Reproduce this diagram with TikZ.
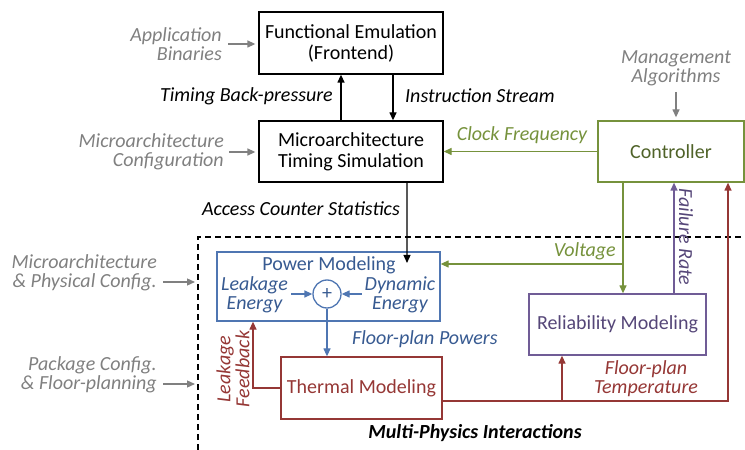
\documentclass[tikz,border=0pt]{standalone}
\usepackage{fontspec}
\setmainfont{Carlito}
\usetikzlibrary{arrows.meta,calc}
\definecolor{cgray}{RGB}{128,128,128}
\definecolor{cgreen}{RGB}{118,146,60}
\definecolor{cgreenD}{RGB}{79,98,40}
\definecolor{cblue}{RGB}{79,118,178}
\definecolor{cblueT}{RGB}{55,90,145}
\definecolor{cred}{RGB}{149,55,53}
\definecolor{cpurp}{RGB}{112,92,150}
\definecolor{cpurpT}{RGB}{85,70,120}
\tikzset{
  box/.style={draw, line width=1.3bp, inner sep=0pt, align=center, font=\fontsize{20bp}{21bp}\selectfont},
  lbl/.style={inner sep=0pt, font=\fontsize{20bp}{19bp}\selectfont\itshape},
  arr/.style={line width=1.3bp, -{Triangle[length=8bp,width=7bp]}},
  ln/.style={line width=1.3bp},
}
\begin{document}
\begin{tikzpicture}[x=1bp,y=-1bp]
\useasboundingbox (0,0) rectangle (745,450);

% main boxes
\node[box, minimum width=184bp, minimum height=62bp] (fe) at (351,43) {Functional Emulation\\(Frontend)};
\node[box, minimum width=184bp, minimum height=61bp] (ts) at (351,151.5) {Microarchitecture\\Timing Simulation};
\node[box, draw=cgreen, text=cgreenD, minimum width=146bp, minimum height=61bp] (ctrl) at (671,151.5) {Controller};
\node[box, draw=cblue, minimum width=223bp, minimum height=69bp] (pm) at (328.5,286.5) {};
\node[box, draw=cred, text=cred, minimum width=161bp, minimum height=62bp] (th) at (361.5,388) {Thermal Modeling};
\node[box, draw=cpurp, text=cpurpT, minimum width=177bp, minimum height=61bp] (rm) at (617.5,324.5) {Reliability Modeling};

% inside power box
\node[inner sep=0pt, text=cblueT, font=\fontsize{20bp}{21bp}\selectfont] (pmt) at (329,265) {Power Modeling};
\node[circle, draw=cblue, line width=1.3bp, minimum size=28bp, inner sep=0pt, text=cblueT, font=\fontsize{20bp}{20bp}\selectfont] (pl) at (327,294) {+};
\node[lbl, text=cblueT, align=center] (le) at (254.5,295) {Leakage\\Energy};
\node[lbl, text=cblueT, align=center] (de) at (400,295) {Dynamic\\Energy};
\draw[arr, cblue] (le.east |- pl.west) ++(3,0) -- (pl.west);
\draw[arr, cblue] (de.west |- pl.east) ++(-3,0) -- (pl.east);
\draw[arr, cblue] (pl.south) -- (pl.south |- th.north);
\node[lbl, text=cblueT, anchor=west] (fpp) at (352,339) {Floor-plan Powers};

% dashed region
\coordinate (dl) at (198,450);
\coordinate (dc) at (198,237);
\coordinate (dr) at (745,237);
\draw[line width=1.3bp, dash pattern=on 6bp off 4bp] (dl) -- (dc) -- (dr);
\node[inner sep=0pt, font=\fontsize{20bp}{21bp}\selectfont\bfseries\itshape] (mpi) at (475,433) {Multi-Physics Interactions};

% gray inputs
\node[lbl, text=cgray, align=right, anchor=east] (ab) at (222,44) {Application\\Binaries};
\coordinate (abs) at (228,44);
\draw[arr, cgray] (abs) -- ([xshift=-3bp]abs -| fe.west);
\node[lbl, text=cgray, align=right, anchor=east] (mc) at (224,152) {Microarchitecture\\Configuration};
\coordinate (mcs) at (229,152);
\draw[arr, cgray] (mcs) -- ([xshift=-3bp]mcs -| ts.west);
\node[lbl, text=cgray, align=right, anchor=east] (mp) at (157,273) {Microarchitecture\\\& Physical Config.};
\coordinate (mps) at (163,282);
\draw[arr, cgray] (mps) -- ([xshift=-3bp]mps -| dc);
\node[lbl, text=cgray, align=right, anchor=east] (pc) at (157,374.5) {Package Config.\\\& Floor-planning};
\coordinate (pcs) at (163,384);
\draw[arr, cgray] (pcs) -- ([xshift=-3bp]pcs -| dc);
\node[lbl, text=cgray, align=center] (ma) at (676,68) {Management\\Algorithms};
\draw[arr, cgray] ([yshift=-6bp]ma.south) -- ([yshift=3bp]ma.south |- ctrl.north);

% frontend <-> timing
\draw[arr] ([xshift=-10bp]ts.north) -- ([xshift=-10bp]fe.south);
\draw[arr] ([xshift=42bp]fe.south) -- ([xshift=42bp]ts.north);
\node[lbl, anchor=east] (tbp) at (333,96) {Timing Back-pressure};
\node[lbl, anchor=west] (ist) at (405,96) {Instruction Stream};

% access counters
\coordinate (acc) at (407,263);
\draw[arr] ([xshift=56bp]ts.south) -- (acc);
\node[lbl, anchor=east] (acs) at (400,209) {Access Counter Statistics};

% clock frequency
\draw[arr, cgreen] (ctrl.west |- ts.east) -- (ts.east);
\node[lbl, text=cgreen] (cf) at (522,135) {Clock Frequency};

% voltage
\coordinate (vj) at (623,264);
\draw[ln, cgreen] (vj |- ctrl.south) -- (vj);
\draw[arr, cgreen] (vj) -- (vj |- rm.north);
\draw[arr, cgreen] (vj) -- (vj -| pm.east);
\node[lbl, text=cgreen, anchor=east] (vt) at (616,251) {Voltage};

% failure rate
\coordinate (fr) at (674,240);
\draw[arr, cpurp] (fr |- rm.north) -- (fr |- ctrl.south);
\node[lbl, text=cpurpT, rotate=-90] (frt) at (686,237) {Failure Rate};

% temperature
\coordinate (tl) at (442,401);
\coordinate (rc) at (728,401);
\coordinate (tb) at (562,401);
\draw[arr, cred] (tl) -- (rc) -- (rc |- ctrl.south);
\draw[arr, cred] (tb) -- (tb |- rm.south);
\node[lbl, text=cred, align=center] (fpt) at (646,378.5) {Floor-plan\\Temperature};

% leakage feedback
\coordinate (lf) at (253,388);
\draw[arr, cred] (th.west) -- (lf) -- (lf |- pm.south);
\node[lbl, text=cred, align=center, rotate=90] (lft) at (233,369) {Leakage\\Feedback};
\end{tikzpicture}
\end{document}
